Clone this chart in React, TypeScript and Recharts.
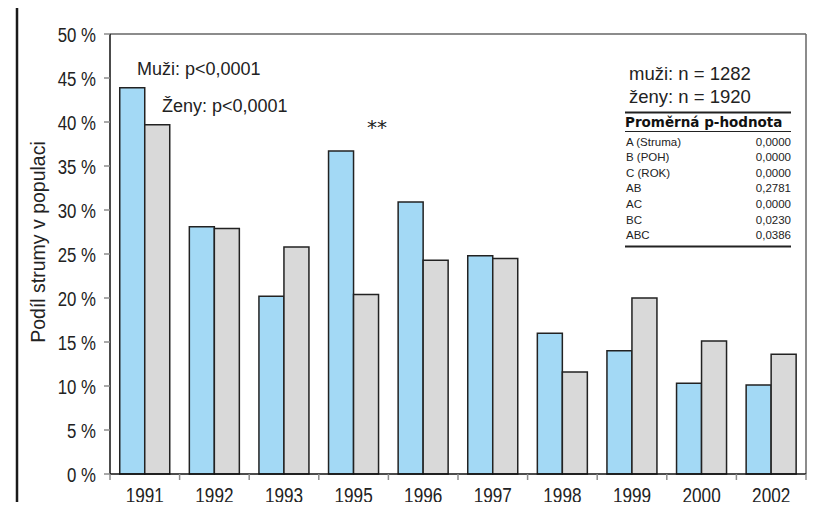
import { BarChart, Bar, XAxis, YAxis, CartesianGrid, Customized } from 'recharts';

const years = ['1991', '1992', '1993', '1995', '1996', '1997', '1998', '1999', '2000', '2002'];
const muzi = [43.9, 28.1, 20.2, 36.7, 30.9, 24.8, 16.0, 14.0, 10.3, 10.1];
const zeny = [39.7, 27.9, 25.8, 20.4, 24.3, 24.5, 11.6, 20.0, 15.1, 13.6];
const yTicks = [0, 5, 10, 15, 20, 25, 30, 35, 40, 45, 50];

const pRows = [
  ['A (Struma)', '0,0000'],
  ['B (POH)', '0,0000'],
  ['C (ROK)', '0,0000'],
  ['AB', '0,2781'],
  ['AC', '0,0000'],
  ['BC', '0,0230'],
  ['ABC', '0,0386'],
];

const data = years.map((year, i) => ({ year, muzi: muzi[i], zeny: zeny[i] }));

const SANS = '"Liberation Sans", Arial, sans-serif';

// tick labels in the original are a condensed face, squeeze Liberation Sans horizontally
const YearTick = (props: any) => {
  const { x, y, payload, index } = props;
  const half = payload?.offset ?? 34.8;
  return (
    <g>
      <line x1={x - half} y1={y} x2={x - half} y2={y + 6} stroke="#8c8c8c" strokeWidth={1.5} />
      {index === years.length - 1 && (
        <line x1={x + half} y1={y} x2={x + half} y2={y + 6} stroke="#8c8c8c" strokeWidth={1.5} />
      )}
      <text
        transform={`translate(${x}, ${y + 29}) scale(0.78, 1)`}
        textAnchor="middle"
        fontFamily={SANS}
        fontSize={22}
        fill="#222"
      >
        {payload.value}
      </text>
    </g>
  );
};

const PercentTick = (props: any) => {
  const { x, y, payload } = props;
  return (
    <text
      transform={`translate(${x}, ${y + 7.5}) scale(0.82, 1)`}
      textAnchor="end"
      fontFamily={SANS}
      fontSize={20.5}
      fill="#222"
    >
      {`${payload.value} %`}
    </text>
  );
};

const Annotations = () => (
  <g>
    <path d="M 17 520 L 17 6 L 816 6 L 816 520" fill="none" stroke="#1a1a1a" strokeWidth={2.5} />
    <text
      transform="translate(45, 242) rotate(-90)"
      textAnchor="middle"
      fontFamily={SANS}
      fontSize={19.5}
      fill="#222"
    >
      Podíl strumy v populaci
    </text>
    <text x={137} y={74.5} fontFamily={SANS} fontSize={18} fill="#222">Muži: p&lt;0,0001</text>
    <text x={162} y={112} fontFamily={SANS} fontSize={18} fill="#222">Ženy: p&lt;0,0001</text>
    <text x={377} y={133.5} textAnchor="middle" fontFamily='"DejaVu Sans", sans-serif' fontSize={20} fill="#222">**</text>

    <text x={629} y={80} fontFamily={SANS} fontSize={18.5} fill="#222">muži: n = 1282</text>
    <text x={629} y={103} fontFamily={SANS} fontSize={18.5} fill="#222">ženy: n = 1920</text>
    <line x1={625} y1={112.5} x2={791} y2={112.5} stroke="#222" strokeWidth={2} />
    <text x={625} y={127} fontFamily='"DejaVu Sans", sans-serif' fontWeight="bold" fontSize={13.5} fill="#111">
      Proměrná p-hodnota
    </text>
    <line x1={625} y1={131.5} x2={791} y2={131.5} stroke="#222" strokeWidth={1} />
    {pRows.map(([name, p], i) => (
      <g key={name}>
        <text x={626} y={145.5 + i * 15.6} fontFamily={SANS} fontSize={11.5} fill="#222">{name}</text>
        <text x={791} y={145.5 + i * 15.6} textAnchor="end" fontFamily={SANS} fontSize={11.5} fill="#222">{p}</text>
      </g>
    ))}
    <line x1={625} y1={246.5} x2={791} y2={246.5} stroke="#222" strokeWidth={2} />
  </g>
);

export default function App() {
  return (
    <div style={{ position: 'relative', width: 818, height: 510, margin: -8, overflow: 'hidden', background: '#fff' }}>
      <BarChart
        width={818}
        height={510}
        data={data}
        margin={{ top: 34, right: 12, bottom: 6, left: 0 }}
        barCategoryGap="14%"
        barGap={0}
      >
        <CartesianGrid
          stroke="#666"
          strokeWidth={1.5}
          horizontalCoordinatesGenerator={({ offset }: any) => [offset.top]}
          verticalCoordinatesGenerator={({ offset }: any) => [offset.left + offset.width]}
        />
        <XAxis
          dataKey="year"
          height={30}
          tickSize={0}
          tickMargin={0}
          tick={<YearTick />}
          axisLine={{ stroke: '#111', strokeWidth: 1.5 }}
          interval={0}
        />
        <YAxis
          width={110}
          domain={[0, 50]}
          ticks={yTicks}
          interval={0}
          tick={<PercentTick />}
          tickLine={{ stroke: '#8c8c8c', strokeWidth: 1.5 }}
          tickSize={6}
          tickMargin={8}
          axisLine={{ stroke: '#111', strokeWidth: 1.5 }}
        />
        <Bar dataKey="muzi" fill="#a3d9f5" stroke="#222" strokeWidth={1.5} isAnimationActive={false} />
        <Bar dataKey="zeny" fill="#d9d9d9" stroke="#222" strokeWidth={1.5} isAnimationActive={false} />
        <Customized component={<Annotations />} />
      </BarChart>
    </div>
  );
}
